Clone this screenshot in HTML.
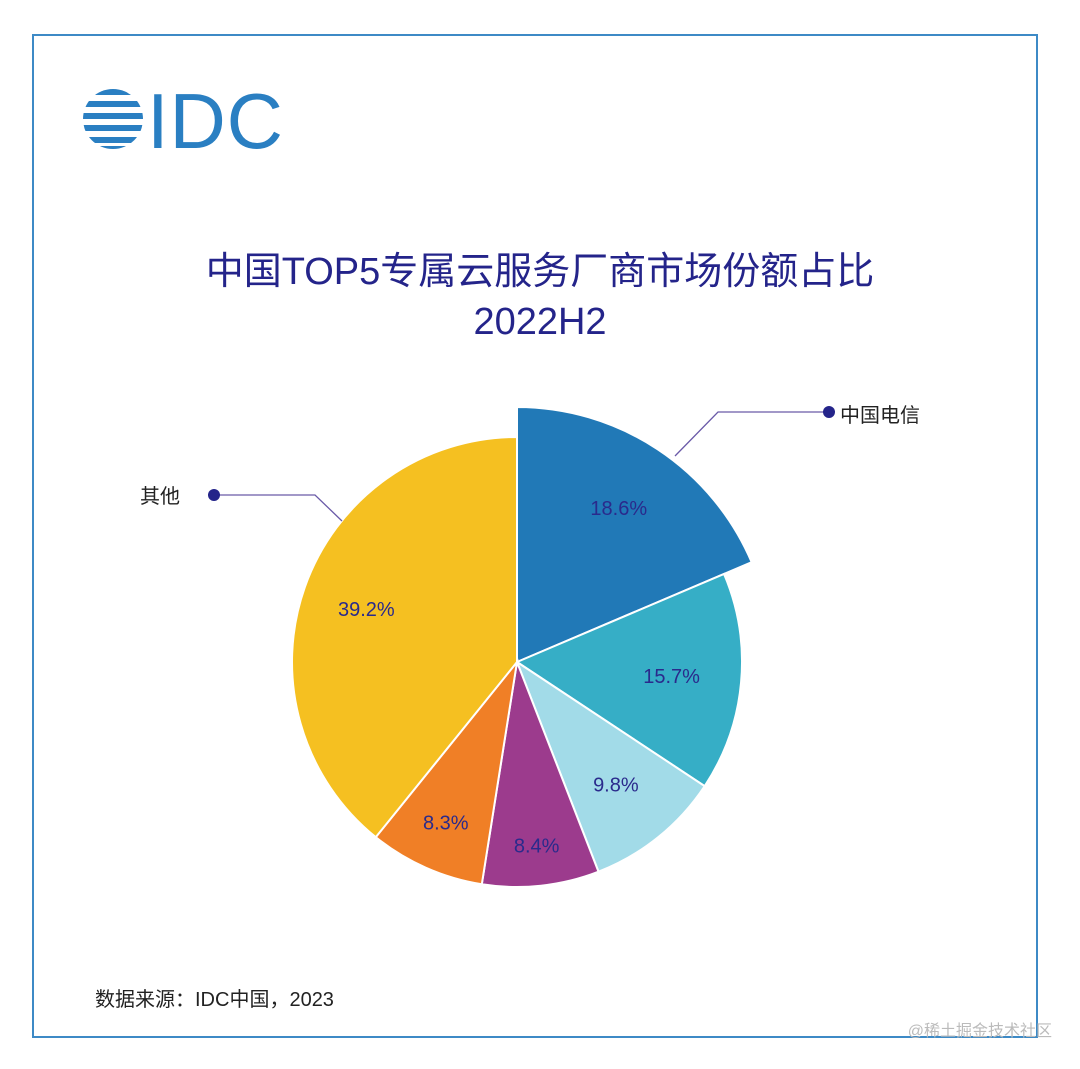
<!DOCTYPE html>
<html><head><meta charset="utf-8"><style>
html,body{margin:0;padding:0;background:#fff;width:1080px;height:1069px;overflow:hidden}
svg text{font-family:"Liberation Sans","Noto Sans CJK SC",sans-serif}
</style></head><body>
<svg width="1080" height="1069" viewBox="0 0 1080 1069" xmlns="http://www.w3.org/2000/svg">
<rect x="33" y="35" width="1004" height="1002" fill="none" stroke="#3d8ac6" stroke-width="2"/>
<g fill="#2a7fc2">
<clipPath id="lc"><circle cx="113" cy="119" r="30"/></clipPath>
<g clip-path="url(#lc)">
<rect x="80" y="89" width="70" height="6"/><rect x="80" y="101" width="70" height="6"/><rect x="80" y="113" width="70" height="6"/><rect x="80" y="125" width="70" height="6"/><rect x="80" y="137" width="70" height="6"/><rect x="80" y="146" width="70" height="4"/>
</g>
<text x="147" y="148" font-size="78" fill="#2a7fc2" textLength="136">IDC</text>
</g>
<text x="540" y="284" text-anchor="middle" font-size="38" fill="#24248a">中国TOP5专属云服务厂商市场份额占比</text>
<text x="540" y="334" text-anchor="middle" font-size="38" fill="#24248a">2022H2</text>
<g id="pie"></g>
<g>
<polyline points="675,456 718,412 827,412" fill="none" stroke="#6a5aa8" stroke-width="1.3"/>
<circle cx="829" cy="412" r="6" fill="#24248a"/>
<text x="840" y="422" font-size="20" fill="#222">中国电信</text>
</g>
<g>
<polyline points="342,521 315,495 214,495" fill="none" stroke="#6a5aa8" stroke-width="1.3"/>
<circle cx="214" cy="495" r="6" fill="#24248a"/>
<text x="140" y="503" font-size="20" fill="#222">其他</text>
</g>
<text x="95" y="1006" font-size="20" fill="#222">数据来源：IDC中国，2023</text>
<text x="1052" y="1036" text-anchor="end" font-size="16" fill="#bbb">@稀土掘金技术社区</text>
</svg>
<script>
const categories=["中国电信","vendor-2","vendor-3","vendor-4","vendor-5","其他"];
const shares=[18.6,15.7,9.8,8.4,8.3,39.2];
const valueLabels=["18.6%","15.7%","9.8%","8.4%","8.3%","39.2%"];
const colors=["#2179b7","#36aec6","#a2dbe8","#9c3b8d","#f07f26","#f5c021"];
const labelRadiusFactor=[0.82,0.69,0.70,0.82,0.78,0.71];
const cx=517,cy=662,R=225,Rx=255;
const g=document.getElementById('pie');
const ns="http://www.w3.org/2000/svg";
const total=shares.reduce((a,b)=>a+b,0);
function pt(r,a){return [cx+r*Math.sin(a),cy-r*Math.cos(a)];}
let acc=0;
shares.forEach((v,i)=>{
  const a0=acc/total*2*Math.PI; acc+=v; const a1=acc/total*2*Math.PI;
  const r=i===0?Rx:R;
  const p0=pt(r,a0),p1=pt(r,a1);
  const large=(a1-a0)>Math.PI?1:0;
  const p=document.createElementNS(ns,'path');
  p.setAttribute('d',`M${cx},${cy} L${p0[0]},${p0[1]} A${r},${r} 0 ${large} 1 ${p1[0]},${p1[1]} Z`);
  p.setAttribute('fill',colors[i]);p.setAttribute('stroke','#fff');p.setAttribute('stroke-width','2');
  
  
  g.appendChild(p);
  const am=(a0+a1)/2, lp=pt(R*labelRadiusFactor[i],am);
  const t=document.createElementNS(ns,'text');
  t.setAttribute('x',lp[0]);t.setAttribute('y',lp[1]+7);t.setAttribute('text-anchor','middle');
  t.setAttribute('font-size','20');t.setAttribute('fill','#2a2a8c');
  t.textContent=valueLabels[i];
  
  
  g.appendChild(t);
});
</script>
</body></html>
